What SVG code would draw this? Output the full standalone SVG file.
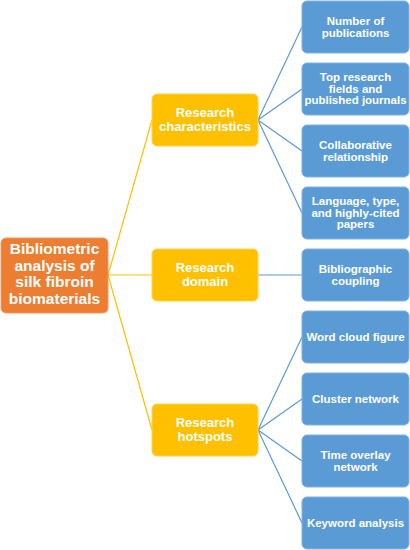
<svg xmlns="http://www.w3.org/2000/svg" width="410" height="550" viewBox="0 0 410 550">
<style>
.t{font-family:"Liberation Sans",Arial,sans-serif;font-weight:bold;fill:#fff;text-anchor:middle}
.b rect{fill:#5B9BD5;stroke:#7FB1E0;stroke-width:1}
.y rect{fill:#FFC000;stroke:#FFD24D;stroke-width:1}
.o rect{fill:#ED7D31;stroke:#F29A5E;stroke-width:1}
.b text{font-size:11.5px}
.y text{font-size:13px}
.o text{font-size:15.5px}
.ly{stroke:#FFC000;stroke-width:1.2;fill:none}
.lb{stroke:#5B9BD5;stroke-width:1.2;fill:none}
</style>
<rect width="410" height="550" fill="#fff"/>
<g id="connectors">
<path class="ly" d="M108,275 L152,120 M108,275 L152,275 M108,275 L152,430"/>
<path class="lb" d="M258,120 L302,27 M258,120 L302,89 M258,120 L302,151 M258,120 L302,213 M258,275 L302,275 M258,430 L302,337 M258,430 L302,399 M258,430 L302,461 M258,430 L302,523"/>
</g>
<g id="root" class="o"><rect x="1" y="238" width="107" height="75" rx="5"/>
<text class="t" x="54.5"><tspan x="54.5" y="254">Bibliometric</tspan><tspan x="54.5" y="270.5">analysis of</tspan><tspan x="54.5" y="287">silk fibroin</tspan><tspan x="54.5" y="303.5">biomaterials</tspan></text></g>
<g id="rc" class="y"><rect x="152" y="94" width="106" height="52" rx="5"/>
<text class="t"><tspan x="205" y="117.3">Research</tspan><tspan x="205" y="131">characteristics</tspan></text></g>
<g id="rd" class="y"><rect x="152" y="249" width="106" height="52" rx="5"/>
<text class="t"><tspan x="205" y="272">Research</tspan><tspan x="205" y="285.7">domain</tspan></text></g>
<g id="rh" class="y"><rect x="152" y="404" width="106" height="52" rx="5"/>
<text class="t"><tspan x="205" y="427">Research</tspan><tspan x="205" y="440.7">hotspots</tspan></text></g>
<g id="b1" class="b"><rect x="302" y="1" width="107" height="52" rx="5"/>
<text class="t"><tspan x="355.5" y="25">Number of</tspan><tspan x="355.5" y="37">publications</tspan></text></g>
<g id="b2" class="b"><rect x="302" y="63" width="107" height="52" rx="5"/>
<text class="t"><tspan x="355.5" y="81">Top research</tspan><tspan x="355.5" y="92.7">fields and</tspan><tspan x="355.5" y="104.4">published journals</tspan></text></g>
<g id="b3" class="b"><rect x="302" y="125" width="107" height="52" rx="5"/>
<text class="t"><tspan x="355.5" y="149">Collaborative</tspan><tspan x="355.5" y="161">relationship</tspan></text></g>
<g id="b4" class="b"><rect x="302" y="187" width="107" height="52" rx="5"/>
<text class="t"><tspan x="355.5" y="205">Language, type,</tspan><tspan x="355.5" y="216.7">and highly-cited</tspan><tspan x="355.5" y="228.4">papers</tspan></text></g>
<g id="b5" class="b"><rect x="302" y="249" width="107" height="52" rx="5"/>
<text class="t"><tspan x="355.5" y="273">Bibliographic</tspan><tspan x="355.5" y="285">coupling</tspan></text></g>
<g id="b6" class="b"><rect x="302" y="311" width="107" height="52" rx="5"/>
<text class="t" x="355.5" y="341">Word cloud figure</text></g>
<g id="b7" class="b"><rect x="302" y="373" width="107" height="52" rx="5"/>
<text class="t" x="355.5" y="403">Cluster network</text></g>
<g id="b8" class="b"><rect x="302" y="435" width="107" height="52" rx="5"/>
<text class="t"><tspan x="355.5" y="459">Time overlay</tspan><tspan x="355.5" y="471">network</tspan></text></g>
<g id="b9" class="b"><rect x="302" y="497" width="107" height="52" rx="5"/>
<text class="t" x="355.5" y="527">Keyword analysis</text></g>
</svg>
